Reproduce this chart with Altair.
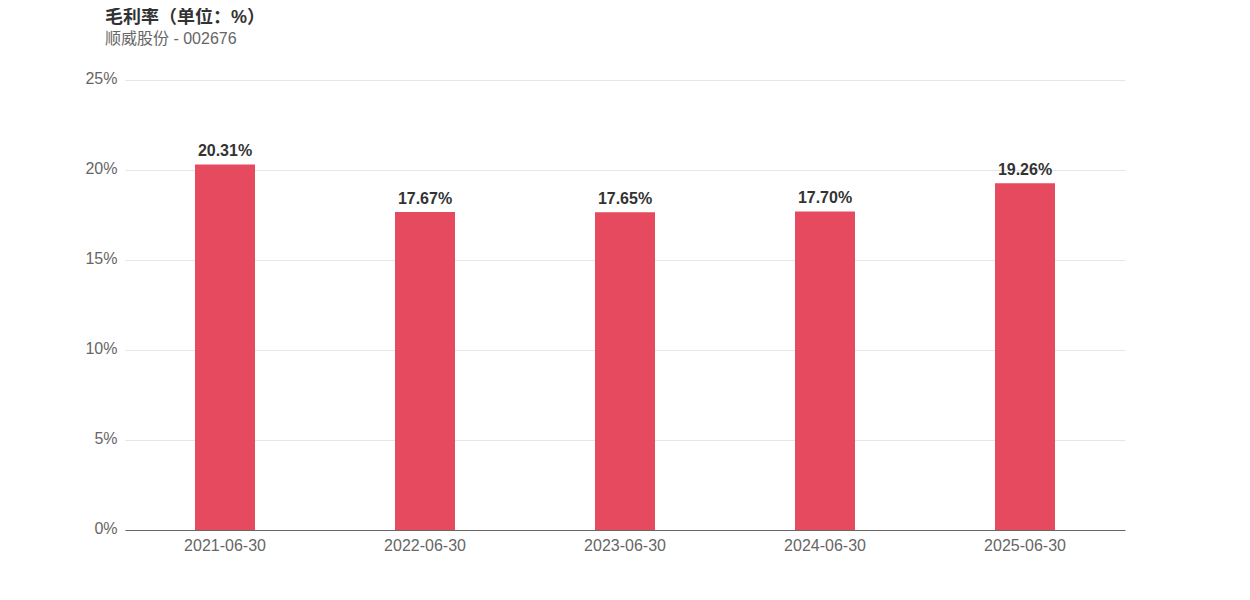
import altair as alt
import pandas as pd

dates = ["2021-06-30", "2022-06-30", "2023-06-30", "2024-06-30", "2025-06-30"]
margins = [20.31, 17.67, 17.65, 17.70, 19.26]
labels = ["20.31%", "17.67%", "17.65%", "17.70%", "19.26%"]

df = pd.DataFrame({"date": dates, "value": margins, "label": labels})

FONT = "Liberation Sans, Arial, Noto Sans CJK SC, sans-serif"

base = alt.Chart(df)

bars = base.mark_bar(size=60, color="#E54A5E").encode(
    x=alt.X("date:N", sort=dates, title=None,
            scale=alt.Scale(paddingInner=0, paddingOuter=0),
            axis=alt.Axis(labelAngle=0, labelFontSize=16, labelColor="#666666",
                          labelPadding=7, ticks=False, domainColor="#666666",
                          labelFont=FONT)),
    y=alt.Y("value:Q", title=None,
            scale=alt.Scale(domain=[0, 25], nice=False),
            axis=alt.Axis(values=[0, 5, 10, 15, 20, 25], labelExpr="datum.value + '%'",
                          labelFontSize=16, labelColor="#666666", labelPadding=8,
                          labelOffset=-2,
                          ticks=False, domain=False, gridColor="#e6e6e6",
                          labelFont=FONT)),
)

text = base.mark_text(fontSize=16, fontWeight="bold", color="#333333",
                      baseline="alphabetic", dy=-8, font=FONT).encode(
    x=alt.X("date:N", sort=dates),
    y="value:Q",
    text="label:N",
)

chart = (bars + text).properties(
    width=1000, height=450,
    padding={"left": 117, "top": 72, "right": 117, "bottom": 62},
    autosize=alt.AutoSizeParams(type="none"),
    title=alt.TitleParams(
        text="毛利率（单位：%）",
        subtitle="顺威股份 - 002676",
        anchor="start", frame="group", dx=-20, offset=23,
        fontSize=18, fontWeight="bold", color="#333333", font=FONT,
        subtitleFontSize=16, subtitleColor="#666666", subtitleFont=FONT,
        subtitlePadding=4,
    ),
).configure_view(stroke=None)

chart.save("out.html", embed_options={"renderer": "svg", "actions": False})
